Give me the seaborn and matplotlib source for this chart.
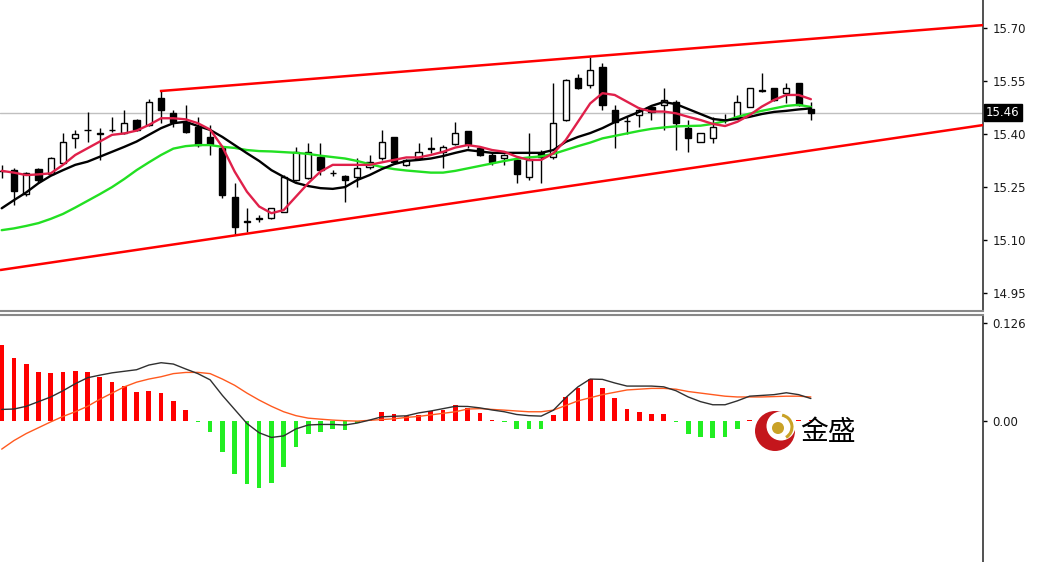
import matplotlib
matplotlib.use("Agg")
import matplotlib.pyplot as plt
import matplotlib.patches as mpatches
import numpy as np
import pandas as pd
import seaborn as sns

# ---------------- data ----------------
opens = [15.295, 15.297, 15.229, 15.300, 15.286, 15.316, 15.387, 15.410, 15.400, 15.410,
         15.401, 15.439, 15.425, 15.501, 15.458, 15.434, 15.420, 15.392, 15.359, 15.222,
         15.150, 15.160, 15.161, 15.179, 15.269, 15.276, 15.335, 15.288, 15.281, 15.278,
         15.307, 15.331, 15.392, 15.312, 15.331, 15.358, 15.349, 15.371, 15.409, 15.359,
         15.340, 15.331, 15.326, 15.278, 15.345, 15.335, 15.439, 15.557, 15.538, 15.590,
         15.467, 15.437, 15.453, 15.477, 15.481, 15.491, 15.416, 15.378, 15.387, 15.440,
         15.444, 15.477, 15.522, 15.529, 15.515, 15.543, 15.469]
highs = [15.312, 15.303, 15.292, 15.303, 15.333, 15.401, 15.411, 15.463, 15.416, 15.448,
         15.467, 15.441, 15.498, 15.521, 15.467, 15.481, 15.448, 15.425, 15.363, 15.260,
         15.189, 15.170, 15.190, 15.283, 15.363, 15.373, 15.373, 15.297, 15.283, 15.331,
         15.340, 15.411, 15.392, 15.330, 15.373, 15.390, 15.368, 15.434, 15.409, 15.361,
         15.345, 15.342, 15.335, 15.401, 15.354, 15.543, 15.555, 15.569, 15.618, 15.600,
         15.481, 15.450, 15.477, 15.480, 15.529, 15.496, 15.439, 15.403, 15.448, 15.455,
         15.510, 15.531, 15.571, 15.531, 15.543, 15.545, 15.491]
lows = [15.275, 15.198, 15.225, 15.262, 15.284, 15.314, 15.360, 15.378, 15.326, 15.406,
        15.399, 15.409, 15.423, 15.430, 15.420, 15.402, 15.363, 15.340, 15.217, 15.113,
        15.123, 15.151, 15.160, 15.178, 15.265, 15.272, 15.283, 15.280, 15.208, 15.250,
        15.300, 15.326, 15.318, 15.308, 15.326, 15.345, 15.303, 15.368, 15.360, 15.338,
        15.312, 15.312, 15.260, 15.270, 15.260, 15.330, 15.437, 15.527, 15.529, 15.467,
        15.360, 15.400, 15.420, 15.440, 15.411, 15.354, 15.349, 15.376, 15.373, 15.430,
        15.442, 15.475, 15.519, 15.494, 15.486, 15.480, 15.439]
closes = [15.296, 15.238, 15.289, 15.269, 15.331, 15.378, 15.399, 15.412, 15.402, 15.412,
          15.430, 15.411, 15.491, 15.467, 15.434, 15.406, 15.368, 15.370, 15.227, 15.137,
          15.152, 15.162, 15.189, 15.278, 15.349, 15.349, 15.297, 15.289, 15.269, 15.302,
          15.321, 15.378, 15.321, 15.326, 15.349, 15.360, 15.362, 15.401, 15.371, 15.340,
          15.321, 15.340, 15.286, 15.326, 15.335, 15.430, 15.552, 15.529, 15.580, 15.482,
          15.434, 15.435, 15.467, 15.463, 15.496, 15.430, 15.387, 15.401, 15.420, 15.438,
          15.491, 15.529, 15.523, 15.496, 15.529, 15.482, 15.460]

ma_fast = [15.295, 15.290, 15.283, 15.285, 15.288, 15.312, 15.340, 15.359, 15.378, 15.397,
           15.401, 15.409, 15.425, 15.444, 15.444, 15.441, 15.430, 15.412, 15.363, 15.293,
           15.236, 15.194, 15.175, 15.184, 15.222, 15.260, 15.293, 15.312, 15.312, 15.312,
           15.312, 15.319, 15.326, 15.333, 15.333, 15.340, 15.349, 15.361, 15.368, 15.363,
           15.354, 15.349, 15.335, 15.326, 15.326, 15.345, 15.382, 15.434, 15.486, 15.515,
           15.510, 15.491, 15.472, 15.463, 15.463, 15.458, 15.448, 15.439, 15.428, 15.422,
           15.434, 15.453, 15.477, 15.496, 15.510, 15.510, 15.498]
ma_mid = [15.189, 15.212, 15.234, 15.260, 15.281, 15.297, 15.312, 15.321, 15.335, 15.349,
          15.363, 15.378, 15.397, 15.416, 15.430, 15.434, 15.422, 15.411, 15.391, 15.368,
          15.345, 15.323, 15.297, 15.278, 15.261, 15.252, 15.246, 15.244, 15.249, 15.269,
          15.283, 15.300, 15.314, 15.323, 15.326, 15.330, 15.337, 15.346, 15.354, 15.350,
          15.346, 15.346, 15.346, 15.346, 15.346, 15.354, 15.377, 15.391, 15.402, 15.416,
          15.433, 15.448, 15.462, 15.479, 15.490, 15.484, 15.470, 15.456, 15.442, 15.438,
          15.442, 15.448, 15.456, 15.462, 15.465, 15.469, 15.472]
ma_slow = [15.127, 15.132, 15.139, 15.147, 15.159, 15.173, 15.191, 15.210, 15.229, 15.249,
           15.272, 15.297, 15.319, 15.340, 15.358, 15.365, 15.368, 15.368, 15.363, 15.360,
           15.354, 15.351, 15.350, 15.348, 15.346, 15.343, 15.338, 15.334, 15.330, 15.323,
           15.314, 15.306, 15.300, 15.296, 15.293, 15.290, 15.290, 15.295, 15.302, 15.309,
           15.316, 15.323, 15.329, 15.333, 15.336, 15.343, 15.354, 15.365, 15.375, 15.387,
           15.394, 15.401, 15.408, 15.414, 15.418, 15.421, 15.422, 15.423, 15.428, 15.436,
           15.448, 15.457, 15.465, 15.472, 15.479, 15.482, 15.476]

macd_hist = [0.0977, 0.0806, 0.0733, 0.0626, 0.0613, 0.0626, 0.0647, 0.0626, 0.0562, 0.0498,
             0.0454, 0.0377, 0.0390, 0.0356, 0.0257, 0.0141, -0.0010, -0.0137, -0.0394, -0.0681,
             -0.0814, -0.0853, -0.0801, -0.0596, -0.0338, -0.0167, -0.0137, -0.0103, -0.0116, -0.0030,
             0.0010, 0.0120, 0.0090, 0.0070, 0.0080, 0.0129, 0.0141, 0.0206, 0.0163, 0.0099,
             0.0020, -0.0012, -0.0103, -0.0103, -0.0103, 0.0077, 0.0304, 0.0420, 0.0540, 0.0429,
             0.0291, 0.0154, 0.0120, 0.0086, 0.0086, -0.0012, -0.0167, -0.0210, -0.0214, -0.0210,
             -0.0107, 0.0012, 0.0020, 0.0025, 0.0030, 0.0020, 0.0015]
macd_line = [0.0150, 0.0155, 0.0190, 0.0250, 0.0310, 0.0390, 0.0480, 0.0557, 0.0590, 0.0620,
             0.0640, 0.0660, 0.0720, 0.0750, 0.0733, 0.0670, 0.0610, 0.0530, 0.0330, 0.0150,
             -0.0030, -0.0150, -0.0210, -0.0190, -0.0100, -0.0050, -0.0043, -0.0043, -0.0050, -0.0025,
             0.0013, 0.0055, 0.0062, 0.0068, 0.0105, 0.0130, 0.0160, 0.0190, 0.0188, 0.0170,
             0.0143, 0.0120, 0.0085, 0.0070, 0.0064, 0.0140, 0.0300, 0.0440, 0.0540, 0.0536,
             0.0490, 0.0450, 0.0450, 0.0450, 0.0440, 0.0390, 0.0310, 0.0250, 0.0210, 0.0210,
             0.0260, 0.0320, 0.0330, 0.0340, 0.0364, 0.0340, 0.0290]
macd_signal = [-0.0360, -0.0250, -0.0160, -0.0085, -0.0010, 0.0060, 0.0120, 0.0190, 0.0280, 0.0360,
               0.0440, 0.0500, 0.0540, 0.0570, 0.0610, 0.0625, 0.0626, 0.0610, 0.0540, 0.0460,
               0.0360, 0.0270, 0.0190, 0.0120, 0.0070, 0.0038, 0.0025, 0.0013, 0.0005, 0.0000,
               0.0010, 0.0020, 0.0030, 0.0047, 0.0060, 0.0080, 0.0100, 0.0120, 0.0155, 0.0160,
               0.0150, 0.0141, 0.0130, 0.0120, 0.0120, 0.0141, 0.0200, 0.0260, 0.0300, 0.0340,
               0.0370, 0.0400, 0.0410, 0.0420, 0.0420, 0.0410, 0.0380, 0.0360, 0.0340, 0.0320,
               0.0310, 0.0310, 0.0310, 0.0315, 0.0320, 0.0320, 0.0310]

upper_trend_x = [12.9, 80.1]
upper_trend_y = [15.521, 15.708]
lower_trend_x = [-0.14, 80.1]
lower_trend_y = [15.014, 15.425]

last_price = 15.46
price_ticks = [14.95, 15.10, 15.25, 15.40, 15.55, 15.70]
price_tick_labels = ["14.95", "15.10", "15.25", "15.40", "15.55", "15.70"]
macd_ticks = [0.0, 0.126]
macd_tick_labels = ["0.00", "0.126"]
logo_text = "金盛"

# ---------------- figure ----------------
sns.set_theme(style="white")
plt.rcParams['font.family'] = ['DejaVu Sans', 'Noto Sans CJK SC']

W, H = 1037, 562
fig = plt.figure(figsize=(W / 100, H / 100), dpi=100)
fig.patch.set_facecolor("white")

ax = fig.add_axes([0, 1 - 311 / H, 983 / W, 311 / H])
ax2 = fig.add_axes([0, 0, 983 / W, 247 / H])

n = len(opens)
idx = np.arange(n)
df = pd.DataFrame({"i": idx, "o": opens, "h": highs, "l": lows, "c": closes,
                   "ma5": ma_fast, "ma10": ma_mid, "ma20": ma_slow,
                   "hist": macd_hist, "macd": macd_line, "sig": macd_signal})

XL = (-0.139, 80.04)

# ---- main price panel ----
ax.axhline(last_price, color="#C0C0C0", lw=1, zorder=1)
ax.vlines(df["i"], df["l"], df["h"], color="black", lw=1, zorder=2)
up = df["c"] >= df["o"]
body = (df["c"] - df["o"]).abs().clip(lower=0.0008)
bottom = np.minimum(df["o"], df["c"])
ax.bar(df["i"][up], body[up], bottom=bottom[up], width=0.5, color="white",
       edgecolor="black", linewidth=1, zorder=3)
ax.bar(df["i"][~up], body[~up], bottom=bottom[~up], width=0.5, color="black",
       edgecolor="black", linewidth=1, zorder=3)

sns.lineplot(data=df, x="i", y="ma20", ax=ax, color="#22E022", lw=1.7, zorder=4)
sns.lineplot(data=df, x="i", y="ma10", ax=ax, color="black", lw=1.7, zorder=5)
sns.lineplot(data=df, x="i", y="ma5", ax=ax, color="#E0204A", lw=1.7, zorder=6)

ax.plot(upper_trend_x, upper_trend_y, color="#FF0000", lw=1.8, zorder=6, solid_capstyle="butt")
ax.plot(lower_trend_x, lower_trend_y, color="#FF0000", lw=1.8, zorder=6, solid_capstyle="butt")

ax.set_xlim(*XL)
ax.set_ylim(14.898, 15.779)
ax.set_xlabel("")
ax.set_ylabel("")
ax.set_xticks([])
ax.yaxis.tick_right()
ax.set_yticks(price_ticks)
ax.set_yticklabels(price_tick_labels)
ax.tick_params(axis="y", which="both", right=True, left=False, direction="out",
               length=3, width=1, color="black", pad=4, labelsize=8.5, labelcolor="#1a1a1a")
for s in ["left", "top"]:
    ax.spines[s].set_visible(False)
ax.spines["right"].set_color("#333333")
ax.spines["right"].set_linewidth(1.2)
ax.spines["bottom"].set_color("#888888")
ax.spines["bottom"].set_linewidth(1.5)
ax.set_facecolor("white")

ax.text(1.003, (last_price - 14.898) / (15.779 - 14.898), f"{last_price:.2f}",
        transform=ax.transAxes, ha="left", va="center", fontsize=8.5, color="white",
        bbox=dict(boxstyle="square,pad=0.2", fc="black", ec="black"), zorder=10, clip_on=False)

# ---- MACD panel ----
pos = df["hist"] >= 0
ax2.bar(df["i"][pos], df["hist"][pos], width=0.38, color="#FF0000", linewidth=0, zorder=2)
ax2.bar(df["i"][~pos], df["hist"][~pos], width=0.38, color="#22EE22", linewidth=0, zorder=2)
sns.lineplot(data=df, x="i", y="sig", ax=ax2, color="#FF5A1F", lw=1.0, zorder=3)
sns.lineplot(data=df, x="i", y="macd", ax=ax2, color="#303030", lw=1.0, zorder=4)

ax2.set_xlim(*XL)
ax2.set_ylim(-0.181, 0.1363)
ax2.set_xlabel("")
ax2.set_ylabel("")
ax2.set_xticks([])
ax2.yaxis.tick_right()
ax2.set_yticks(macd_ticks)
ax2.set_yticklabels(macd_tick_labels)
ax2.tick_params(axis="y", right=True, left=False, direction="out", length=3, width=1,
                color="black", pad=4, labelsize=8.5, labelcolor="#1a1a1a")
for s in ["left", "bottom"]:
    ax2.spines[s].set_visible(False)
ax2.spines["right"].set_color("#333333")
ax2.spines["right"].set_linewidth(1.2)
ax2.spines["top"].set_color("#888888")
ax2.spines["top"].set_linewidth(1.5)
ax2.set_facecolor("white")

# ---- logo overlay (figure pixel coordinates) ----
lax = fig.add_axes([0, 0, 1, 1], zorder=20)
lax.set_xlim(0, W)
lax.set_ylim(H, 0)
lax.axis("off")
lax.patch.set_alpha(0)
lax.add_patch(mpatches.Circle((775, 431), 20, color="#C4161C", lw=0))
lax.add_patch(mpatches.Circle((781, 426), 14.5, color="white", lw=0))
lax.add_patch(mpatches.Arc((780, 427), 24, 24, theta1=-80, theta2=60, color="#C9A227", lw=2.2))
lax.add_patch(mpatches.Circle((778, 428), 6, color="#C9A227", lw=0))
lax.text(800, 432, logo_text, fontsize=20, family=["Noto Sans CJK SC"], color="black",
         ha="left", va="center")

fig.savefig("out.png", dpi=100, facecolor="white")
